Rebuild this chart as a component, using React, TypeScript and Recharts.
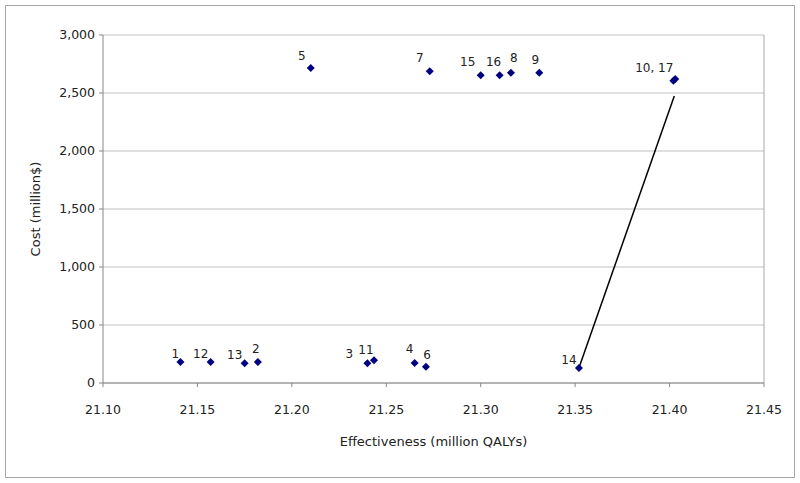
import React from 'react';
import {
  ScatterChart,
  Scatter,
  XAxis,
  YAxis,
  CartesianGrid,
  ReferenceLine,
} from 'recharts';

// strategy numbers, one per point ("10, 17" share a single label)
const pointLabels = ['1', '2', '3', '4', '5', '6', '7', '8', '9', '10, 17', '11', '12', '13', '14', '15', '16', ''];
const effectiveness = [
  21.141, 21.182, 21.24, 21.265, 21.21, 21.271, 21.273, 21.316, 21.331, 21.403, 21.2435, 21.157,
  21.175, 21.352, 21.3, 21.31, 21.402,
];
const cost = [181, 181, 170, 172, 2716, 141, 2687, 2675, 2675, 2620, 196, 181, 170, 129, 2652, 2652, 2605];

// efficient frontier segment
const frontierX = [21.352, 21.4025];
const frontierY = [129, 2475];

const xTicks = [21.1, 21.15, 21.2, 21.25, 21.3, 21.35, 21.4, 21.45];
const yTicks = [0, 500, 1000, 1500, 2000, 2500, 3000];

// label offsets relative to each marker (px)
const labelOffsets: [number, number][] = [
  [-5, -8], [-2, -13], [-18, -9], [-5, -14], [-9, -12], [1, -12], [-10, -13], [3, -15], [-4, -13],
  [-21, -11], [-8, -10], [-10, -8], [-10, -8], [-10, -8], [-13, -13], [-6, -13], [0, 0],
];

const points = effectiveness.map((x, i) => ({ x, y: cost[i], label: pointLabels[i], idx: i }));
const frontier = frontierX.map((x, i) => ({ x, y: frontierY[i] }));

const FONT = '"DejaVu Sans", sans-serif';

function Diamond(props: any) {
  const { cx, cy, payload } = props;
  if (cx == null || cy == null) return null;
  const r = 4;
  const [dx, dy] = labelOffsets[payload.idx] || [0, 0];
  return (
    <g>
      <polygon
        points={`${cx},${cy - r} ${cx + r},${cy} ${cx},${cy + r} ${cx - r},${cy}`}
        fill="#000080"
      />
      {payload.label ? (
        <text
          x={cx + dx}
          y={cy + dy}
          textAnchor="middle"
          dominantBaseline="central"
          fontSize={12}
          fontFamily={FONT}
          fill="#222"
        >
          {payload.label}
        </text>
      ) : null}
    </g>
  );
}

export default function App() {
  return (
    <div style={{ position: 'absolute', left: 0, top: 0, width: 800, height: 483, background: '#fff' }}>
      <div
        style={{
          position: 'absolute',
          left: 5,
          top: 5,
          width: 788,
          height: 471,
          border: '1.5px solid #a8a8a8',
        }}
      />
      <ScatterChart
        width={800}
        height={483}
        margin={{ top: 35, right: 36, bottom: 0, left: 0 }}
        style={{ position: 'absolute', left: 0, top: 0 }}
      >
        <CartesianGrid vertical={false} stroke="#c0c0c0" />
        <XAxis
          type="number"
          dataKey="x"
          domain={[21.1, 21.45]}
          ticks={xTicks}
          tickFormatter={(v: number) => v.toFixed(2)}
          height={100}
          stroke="#888"
          tickSize={4}
          tick={{ fontSize: 12.5, fontFamily: FONT, fill: '#222', dy: 16 }}
          label={{
            value: 'Effectiveness (million QALYs)',
            position: 'insideTop',
            offset: 54,
            fontSize: 13,
            fontFamily: FONT,
            fill: '#222',
          }}
        />
        <YAxis
          type="number"
          dataKey="y"
          domain={[0, 3000]}
          ticks={yTicks}
          tickFormatter={(v: number) => v.toLocaleString('en-US')}
          width={103}
          stroke="#888"
          tickSize={4}
          tick={{ fontSize: 12.5, fontFamily: FONT, fill: '#222', dx: -2 }}
          label={{
            value: 'Cost (million$)',
            angle: -90,
            position: 'insideLeft',
            offset: 35,
            style: { textAnchor: 'middle' },
            fontSize: 13,
            fontFamily: FONT,
            fill: '#222',
          }}
        />
        <ReferenceLine x={21.45} stroke="#a8a8a8" />
        <Scatter
          data={frontier}
          line={{ stroke: '#000', strokeWidth: 1.5 }}
          shape={() => null}
          isAnimationActive={false}
        />
        <Scatter data={points} shape={<Diamond />} isAnimationActive={false} />
      </ScatterChart>
    </div>
  );
}
